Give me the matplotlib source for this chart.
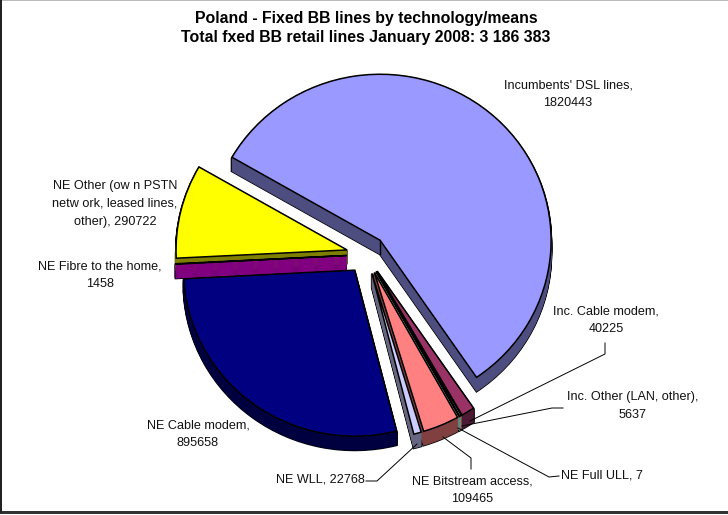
import matplotlib
matplotlib.use("Agg")
import matplotlib.pyplot as plt
from matplotlib.lines import Line2D
from matplotlib.patches import Rectangle

plt.rcParams['font.family'] = ['Liberation Sans', 'DejaVu Sans']

title = "Poland - Fixed BB lines by technology/means\nTotal fxed BB retail lines January 2008: 3 186 383"
names = ["Incumbents' DSL lines", "Inc. Cable modem", "Inc. Other (LAN, other)", "NE Full ULL",
         "NE Bitstream access", "NE WLL", "NE Cable modem", "NE Fibre to the home",
         "NE Other (own PSTN network, leased lines, other)"]
values = [1820443, 40225, 5637, 7, 109465, 22768, 895658, 1458, 290722]
colors = ["#9999FF", "#993366", "#FFFFCC", "#CCFFFF", "#FF8080", "#CCCCFF", "#000080", "#FF00FF", "#FFFF00"]


def darker(c):
    r, g, b = matplotlib.colors.to_rgb(c)
    return (r * 0.5, g * 0.5, b * 0.5)


W, H = 728, 515
CX, CY = 366.5, 254.5   # pie centre in pixels
RX, RY = 171.0, 166.0   # radius of the squashed pie
DEPTH = 14
EXPLODE = 0.117


def fx(x):
    return x / W


def fy(y):
    return 1 - y / H


fig = plt.figure(figsize=(W / 100, H / 100), dpi=100)
ax = fig.add_axes([0, 0, 1, 1])
walls = [darker(c) for c in colors]
explode = [EXPLODE] * len(values)

# side walls: black silhouette first, then the wall colour on top
for k in range(DEPTH, 0, -1):
    ax.pie(values, explode=explode, colors=['black'] * len(values), startangle=150, counterclock=False,
           center=(0, -k / RY), wedgeprops=dict(edgecolor='black', linewidth=1.6))
for k in range(DEPTH, 0, -1):
    ax.pie(values, explode=explode, colors=walls, startangle=150, counterclock=False,
           center=(0, -k / RY), wedgeprops=dict(edgecolor=None, linewidth=0.5))
    for p in ax.patches[-len(values):]:
        p.set_edgecolor(p.get_facecolor())

wedges, _ = ax.pie(values, explode=explode, colors=colors, startangle=150, counterclock=False,
                   center=(0, 0), wedgeprops=dict(edgecolor='black', linewidth=1.1, zorder=3))

# corner of the big slice wall
x0, y0 = wedges[0].center
ax.plot([x0, x0], [y0, y0 - DEPTH / RY], color='black', lw=1.0, zorder=2)

ax.set_aspect('auto')
ax.set_xlim(-CX / RX, (W - CX) / RX)
ax.set_ylim((CY - H) / RY, CY / RY)

fig.text(fx(366), fy(28), title, ha='center', va='center', fontsize=11.4, fontweight='bold',
         linespacing=1.38, color='black')

labels = [
    ("Incumbents' DSL lines,\n1820443", 568, 94, 'center'),
    ("NE Other (ow n PSTN\nnetw ork, leased lines,\nother), 290722", 115, 204, 'center'),
    ("NE Fibre to the home,\n1458", 100, 275, 'center'),
    ("NE Cable modem,\n895658", 198, 434, 'center'),
    ("NE WLL, 22768", 365, 480, 'right'),
    ("NE Bitstream access,\n109465", 472, 490, 'center'),
    ("NE Full ULL, 7", 561, 475, 'left'),
    ("Inc. Other (LAN, other),\n5637", 633, 406, 'center'),
    ("Inc. Cable modem,\n40225", 606, 320, 'center'),
]
for txt, x, y, ha in labels:
    fig.text(fx(x), fy(y), txt, ha=ha, va='center', multialignment='center', fontsize=9.1,
             linespacing=1.66, color='#111111')

leaders = [
    ([605, 605, 470], [343, 354, 421]),
    ([563, 552, 462], [408, 408, 426]),
    ([559, 549, 458], [476, 477, 428]),
    ([471, 471, 443], [469, 458, 437]),
    ([366, 377, 417], [481, 481, 444]),
]
for xs, ys in leaders:
    fig.add_artist(Line2D([fx(v) for v in xs], [fy(v) for v in ys], color='black', lw=0.7))

# chart frame
fig.add_artist(Rectangle((0, fy(0.5)), 1, 0.002, transform=fig.transFigure, color='#BBBBBB', lw=0))
fig.add_artist(Rectangle((0, fy(513.5)), 1, 3 / H * 0.7, transform=fig.transFigure, color='#333333', lw=0))
fig.add_artist(Rectangle((0, fy(513)), 1.5 / W, fy(0) - fy(513), transform=fig.transFigure, color='#222222', lw=0))

fig.savefig("out.png", dpi=100, facecolor='white')
